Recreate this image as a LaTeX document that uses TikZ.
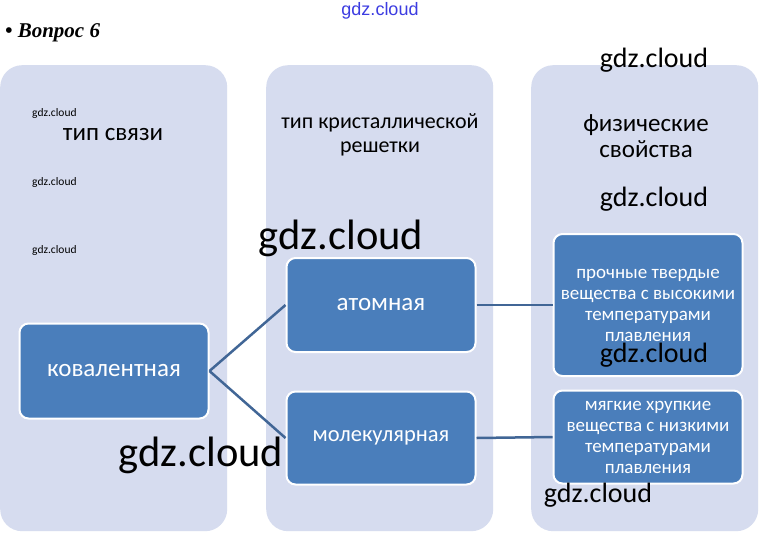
\documentclass[tikz,border=0pt]{standalone}
\usepackage{fontspec}
\setmainfont{Carlito}
\newfontfamily\questfont{Liberation Serif}
\newfontfamily\markfont{Liberation Sans}
\definecolor{panelfill}{RGB}{214,220,239}
\definecolor{boxfill}{RGB}{74,126,187}
\definecolor{linkblue}{RGB}{65,102,150}
\definecolor{markblue}{RGB}{60,60,225}
\begin{document}
\begin{tikzpicture}[x=1pt, y=-1pt,
    panel/.style={rectangle, fill=panelfill, rounded corners=22pt, minimum width=227pt, minimum height=466pt, anchor=north west, inner sep=0pt},
    head/.style={align=center, inner sep=0pt, font=\fontsize{25}{26}\selectfont},
    box/.style={rectangle, draw=white, line width=2pt, fill=boxfill, rounded corners=9pt, text=white, align=center, minimum width=189pt, inner sep=0pt, font=\fontsize{25}{27}\selectfont},
    smallbox/.style={box, font=\fontsize{19}{21}\selectfont},
    link/.style={draw=linkblue, line width=2.5pt},
    wm/.style={inner sep=0pt, font=\fontsize{28}{30}\selectfont},
    wmbig/.style={inner sep=0pt, font=\fontsize{42.5}{44}\selectfont},
    wmsmall/.style={inner sep=0pt, anchor=west, font=\fontsize{11.5}{13}\selectfont}
]
    \useasboundingbox (0,0) rectangle (759,533);
    \fill[white] (0,0) rectangle (759,533);

    % Title
    \node[anchor=west, inner sep=0pt, font=\questfont\bfseries\itshape\fontsize{21}{24}\selectfont] (quest) at (5,33) {• Вопрос 6};
    \node[inner sep=0pt, text=markblue, font=\markfont\fontsize{18}{20}\selectfont] (topmark) at (380,11) {gdz.cloud};

    % Columns
    \node[panel] (bond) at (0,65) {};
    \node[panel] (lattice) at (266,65) {};
    \node[panel] (props) at (531,65) {};

    \node[head] (bondhead) at (113,135) {тип связи};
    \node[head, font=\fontsize{22}{24}\selectfont] (latticehead) at (380,135) {тип кристаллической\\решетки};
    \node[head] (propshead) at (646,136) {физические\\свойства};

    % Boxes
    \node[box, minimum height=95pt] (covalent) at (114,371) {ковалентная};
    \node[box, minimum height=94pt] (atomic) at (381,305) {атомная};
    \node[box, minimum height=93pt, font=\fontsize{22.5}{25}\selectfont] (molecular) at (381,438) {молекулярная};
    \node[smallbox, minimum height=142pt] (strong) at (648,305) {прочные твердые\\вещества с высокими\\температурами\\плавления};
    \node[smallbox, minimum height=93pt] (soft) at (648,437) {мягкие хрупкие\\вещества с низкими\\температурами\\плавления};

    % Links
    \draw[link] (covalent.east) -- (atomic.west);
    \draw[link] (covalent.east) -- (molecular.west);
    \draw[link] (atomic.east) -- (strong.west);
    \draw[link] (molecular.east) -- (soft.west);

    % Watermarks
    \node[wmsmall] (wmA) at (32,113) {gdz.cloud};
    \node[wmsmall] (wmB) at (32,182) {gdz.cloud};
    \node[wmsmall] (wmC) at (32,250) {gdz.cloud};
    \node[wm] (wmD) at (654,60) {gdz.cloud};
    \node[wm] (wmE) at (654,199) {gdz.cloud};
    \node[wm] (wmF) at (654,355) {gdz.cloud};
    \node[wm] (wmG) at (598,495) {gdz.cloud};
    \node[wmbig] (wmH) at (341,238) {gdz.cloud};
    \node[wmbig] (wmI) at (201,455) {gdz.cloud};
\end{tikzpicture}
\end{document}
